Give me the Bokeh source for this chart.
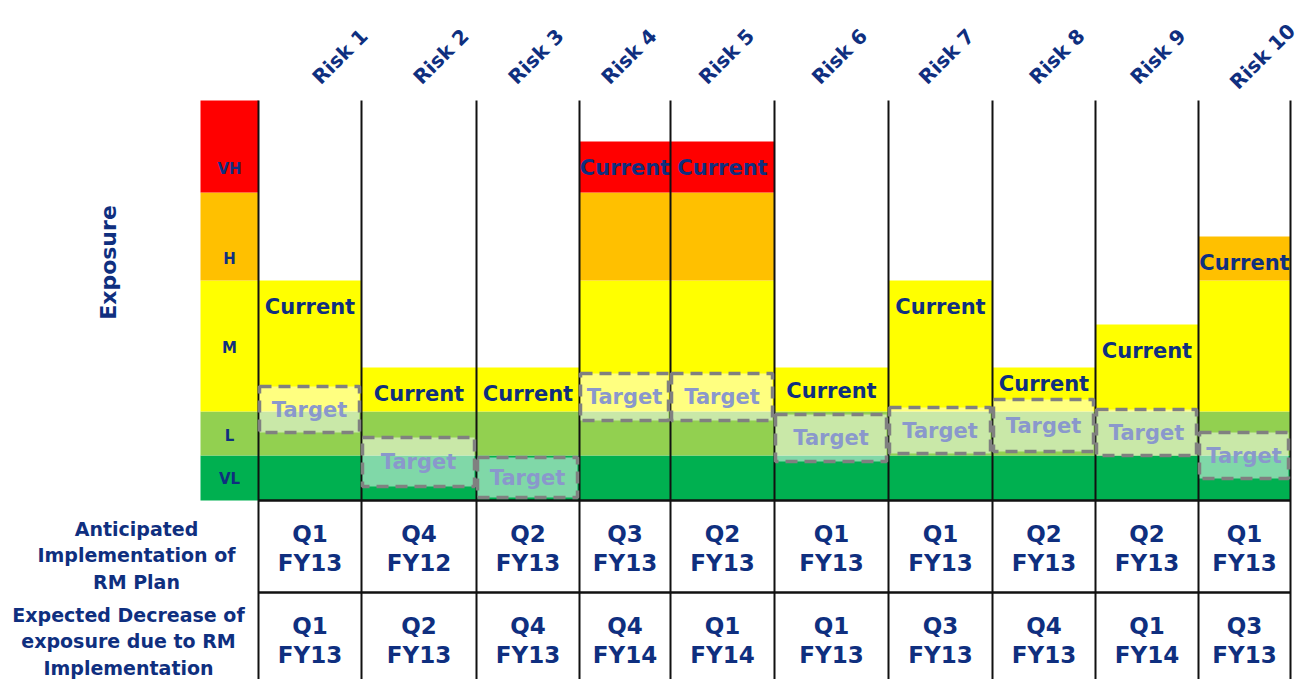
import math
from bokeh.plotting import figure
from bokeh.models import Range1d
from bokeh.core.properties import value
from bokeh.embed import file_html
from bokeh.resources import INLINE

# ---------------- data ----------------
risks = ["Risk 1", "Risk 2", "Risk 3", "Risk 4", "Risk 5",
         "Risk 6", "Risk 7", "Risk 8", "Risk 9", "Risk 10"]
levels = ["VL", "L", "M", "H", "VH"]
level_colors = ["#00b050", "#92d050", "#ffff00", "#ffc000", "#ff0000"]
level_bounds = [0, 45, 89, 220, 308, 400]          # exposure scale thresholds
current = [220, 133, 133, 359, 359, 133, 220, 133, 176, 264]
target_low = [68, 14, 3, 80, 80, 39, 47, 49, 45, 22]
target_high = [114, 63, 43, 127, 127, 86, 93, 101, 91, 68]
impl_q = ["Q1", "Q4", "Q2", "Q3", "Q2", "Q1", "Q1", "Q2", "Q2", "Q1"]
impl_fy = ["FY13", "FY12", "FY13", "FY13", "FY13", "FY13", "FY13", "FY13", "FY13", "FY13"]
dec_q = ["Q1", "Q2", "Q4", "Q4", "Q1", "Q1", "Q3", "Q4", "Q1", "Q3"]
dec_fy = ["FY13", "FY13", "FY13", "FY14", "FY14", "FY13", "FY13", "FY13", "FY14", "FY13"]
row_labels = ["Anticipated\nImplementation of\nRM Plan",
              "Expected Decrease of\nexposure due to RM\nImplementation"]

# ---------------- layout ----------------
EDGES = [258, 361, 476, 579, 670, 774, 888, 992, 1095, 1198, 1290]
HEADER_NUDGE = [30, 22, 8, 4, 4, 8, 6, 13, 11, 18]
NAVY = "#0f2f7f"
TARGET_TXT = "#8a98cc"
FONT = value("DejaVu Sans")
W, H = 1300, 679


def Y(px):  # page pixel row -> data y
    return 500 - px


p = figure(width=W, height=H, output_backend="svg", toolbar_location=None,
           x_range=Range1d(0, W), y_range=Range1d(Y(H), Y(0)),
           min_border=0, outline_line_color=None)
p.axis.visible = False
p.grid.visible = False
p.background_fill_color = "white"
p.border_fill_color = "white"

# left legend column of levels
p.quad(left=[200] * 5, right=[258] * 5, bottom=level_bounds[:-1], top=level_bounds[1:],
       fill_color=level_colors, line_color=None)

# risk columns stacked to current exposure
L, R, B, T, C = [], [], [], [], []
for i, cur in enumerate(current):
    for b in range(len(levels)):
        lo, hi = level_bounds[b], min(level_bounds[b + 1], cur)
        if hi > lo:
            L.append(EDGES[i]); R.append(EDGES[i + 1]); B.append(lo); T.append(hi)
            C.append(level_colors[b])
p.quad(left=L, right=R, bottom=B, top=T, fill_color=C, line_color=None)

# grid lines
for x in EDGES:
    p.segment(x0=[x], y0=[Y(100)], x1=[x], y1=[Y(700)], line_color="#111111", line_width=2)
p.segment(x0=[EDGES[0], EDGES[0]], y0=[Y(500), Y(592)], x1=[EDGES[-1], EDGES[-1]],
          y1=[Y(500), Y(592)], line_color="#111111", line_width=2.5)

# target boxes
tl = [EDGES[i] + 1 for i in range(10)]
tr = [EDGES[i + 1] - 2 for i in range(10)]
p.quad(left=tl, right=tr, bottom=target_low, top=target_high,
       fill_color="white", fill_alpha=0.5, line_color="#808080", line_width=3.5,
       line_dash="12 7")
p.text(x=[(a + b) / 2 for a, b in zip(tl, tr)],
       y=[(a + b) / 2 for a, b in zip(target_low, target_high)],
       text=["Target"] * 10, text_align="center", text_baseline="middle",
       text_font=FONT, text_font_style="bold", text_font_size="21px",
       text_color=TARGET_TXT)

# current labels
cx = [(EDGES[i] + EDGES[i + 1]) / 2 for i in range(10)]
cy = [max(c - 26, (c + th) / 2) for c, th in zip(current, target_high)]
p.text(x=cx, y=cy, text=["Current"] * 10, text_align="center", text_baseline="middle",
       text_font=FONT, text_font_style="bold", text_font_size="21px", text_color=NAVY)

# level labels
p.text(x=[229] * 5, y=[Y(478), Y(435), Y(347), Y(258), Y(168)], text=levels,
       text_align="center", text_baseline="middle", text_font=FONT,
       text_font_style="bold", text_font_size="15px", text_color=NAVY)

# Exposure title
p.text(x=[108], y=[Y(262)], text=["Exposure"], angle=math.pi / 2,
       text_align="center", text_baseline="middle", text_font=FONT,
       text_font_style="bold", text_font_size="22px", text_color=NAVY)

# risk headers
p.text(x=[c + n for c, n in zip(cx, HEADER_NUDGE)], y=[Y(56)] * 10, text=risks,
       angle=math.pi / 4, text_align="center", text_baseline="middle", text_font=FONT,
       text_font_style="bold", text_font_size="20px", text_color=NAVY)

# table cells
p.text(x=cx, y=[Y(548)] * 10, text=[q + "\n" + f for q, f in zip(impl_q, impl_fy)],
       text_align="center", text_baseline="middle", text_font=FONT,
       text_font_style="bold", text_font_size="23px", text_color=NAVY,
       text_line_height=1.15)
p.text(x=cx, y=[Y(640)] * 10, text=[q + "\n" + f for q, f in zip(dec_q, dec_fy)],
       text_align="center", text_baseline="middle", text_font=FONT,
       text_font_style="bold", text_font_size="23px", text_color=NAVY,
       text_line_height=1.15)
p.text(x=[136, 128], y=[Y(555), Y(641)], text=row_labels,
       text_align="center", text_baseline="middle", text_font=FONT,
       text_font_style="bold", text_font_size="19px", text_color=NAVY,
       text_line_height=1.2)

open("out.html", "w").write(file_html(p, INLINE))
